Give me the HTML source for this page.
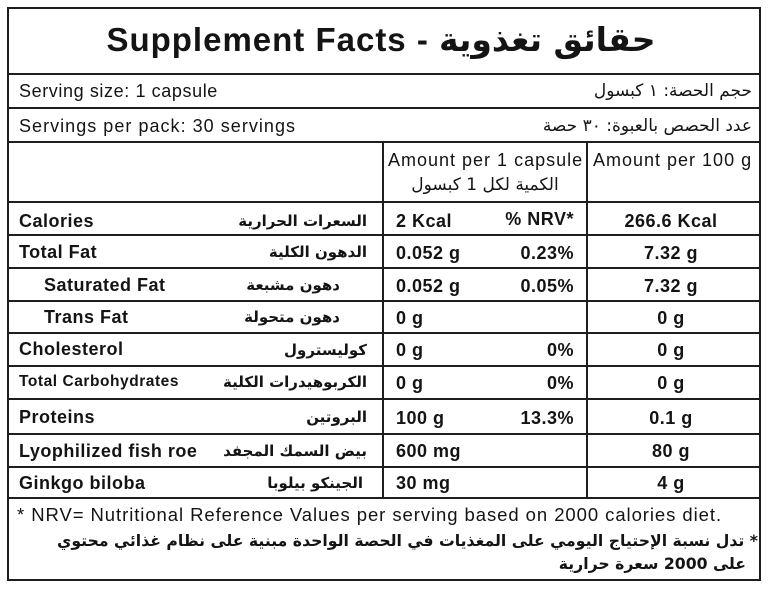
<!DOCTYPE html>
<html><head><meta charset="utf-8">
<style>
html,body{margin:0;padding:0;background:#fff;}
body{width:768px;height:589px;position:relative;overflow:hidden;font-family:"Liberation Sans","DejaVu Sans",sans-serif;color:#141414;}
.box{position:absolute;left:7px;top:7px;width:750px;height:570px;border:2px solid #1e1e1e;}
.h{position:absolute;height:2px;background:#1e1e1e;left:7px;width:754px;}
.v{position:absolute;width:2px;background:#1e1e1e;}
.t{position:absolute;white-space:nowrap;line-height:24px;height:24px;}
.r{font-size:18px;letter-spacing:0.6px;}
.b{font-size:18px;font-weight:bold;letter-spacing:0.5px;}
.ar{font-family:"DejaVu Sans",sans-serif;letter-spacing:0;direction:rtl;}
.arb{font-family:"DejaVu Sans",sans-serif;letter-spacing:0;direction:rtl;font-weight:bold;font-size:15px;}
.rt{text-align:right;}
.ct{text-align:center;}
</style></head><body>
<div class="box"></div>
<div class="h" style="top:73px"></div>
<div class="h" style="top:107px"></div>
<div class="h" style="top:141px"></div>
<div class="h" style="top:201px"></div>
<div class="h" style="top:234px"></div>
<div class="h" style="top:267px"></div>
<div class="h" style="top:300px"></div>
<div class="h" style="top:332px"></div>
<div class="h" style="top:365px"></div>
<div class="h" style="top:398px"></div>
<div class="h" style="top:433px"></div>
<div class="h" style="top:466px"></div>
<div class="h" style="top:497px"></div>
<div class="v" style="left:382px;top:142px;height:356px"></div>
<div class="v" style="left:586px;top:142px;height:356px"></div>

<!-- title -->
<div class="t ct" style="left:9px;width:744px;top:20px;height:40px;line-height:40px;font-size:33px;font-weight:bold;"><span style="letter-spacing:1px">Supplement Facts - </span><span style="font-family:'DejaVu Sans',sans-serif;font-size:33px;" dir="rtl">حقائق تغذوية</span></div>

<!-- serving rows -->
<div class="t r" style="left:19px;top:79px;">Serving size: 1 capsule</div>
<div class="t ar rt" style="right:16px;top:79px;font-size:17px;" dir="rtl">حجم الحصة: ١ كبسول</div>
<div class="t r" style="left:19px;top:114px;letter-spacing:1.03px;">Servings per pack: 30 servings</div>
<div class="t ar rt" style="right:16px;top:114px;font-size:17px;" dir="rtl">عدد الحصص بالعبوة: ٣٠ حصة</div>

<!-- header -->
<div class="t r" style="left:388px;top:148px;letter-spacing:1px;">Amount per 1 capsule</div>
<div class="t ar ct" style="left:384px;width:202px;top:173px;font-size:17px;" dir="rtl">الكمية لكل 1 كبسول</div>
<div class="t r" style="left:593px;top:148px;letter-spacing:1px;">Amount per 100 g</div>

<!-- rows -->
<div class="t b" style="left:19px;top:209px;">Calories</div>
<div class="t arb rt" style="right:401px;top:209px;" dir="rtl">السعرات الحرارية</div>
<div class="t b" style="left:396px;top:209px;">2 Kcal</div>
<div class="t b rt" style="right:194px;top:207px;font-weight:bold;">% NRV*</div>
<div class="t b ct" style="left:571px;width:200px;top:209px;">266.6 Kcal</div>

<div class="t b" style="left:19px;top:240px;">Total Fat</div>
<div class="t arb rt" style="right:401px;top:240px;" dir="rtl">الدهون الكلية</div>
<div class="t b" style="left:396px;top:241px;">0.052 g</div>
<div class="t b rt" style="right:194px;top:241px;">0.23%</div>
<div class="t b ct" style="left:571px;width:200px;top:241px;">7.32 g</div>

<div class="t b" style="left:44px;top:273px;">Saturated Fat</div>
<div class="t arb rt" style="right:428px;top:273px;" dir="rtl">دهون مشبعة</div>
<div class="t b" style="left:396px;top:274px;">0.052 g</div>
<div class="t b rt" style="right:194px;top:274px;">0.05%</div>
<div class="t b ct" style="left:571px;width:200px;top:274px;">7.32 g</div>

<div class="t b" style="left:44px;top:305px;">Trans Fat</div>
<div class="t arb rt" style="right:428px;top:305px;" dir="rtl">دهون متحولة</div>
<div class="t b" style="left:396px;top:306px;">0 g</div>
<div class="t b ct" style="left:571px;width:200px;top:306px;">0 g</div>

<div class="t b" style="left:19px;top:337px;">Cholesterol</div>
<div class="t arb rt" style="right:401px;top:338px;" dir="rtl">كوليسترول</div>
<div class="t b" style="left:396px;top:338px;">0 g</div>
<div class="t b rt" style="right:194px;top:338px;">0%</div>
<div class="t b ct" style="left:571px;width:200px;top:338px;">0 g</div>

<div class="t b" style="left:19px;top:370px;font-size:15.5px;letter-spacing:0.55px;">Total Carbohydrates</div>
<div class="t arb rt" style="right:401px;top:370px;" dir="rtl">الكربوهيدرات الكلية</div>
<div class="t b" style="left:396px;top:371px;">0 g</div>
<div class="t b rt" style="right:194px;top:371px;">0%</div>
<div class="t b ct" style="left:571px;width:200px;top:371px;">0 g</div>

<div class="t b" style="left:19px;top:405px;">Proteins</div>
<div class="t arb rt" style="right:401px;top:405px;" dir="rtl">البروتين</div>
<div class="t b" style="left:396px;top:406px;">100 g</div>
<div class="t b rt" style="right:194px;top:406px;">13.3%</div>
<div class="t b ct" style="left:571px;width:200px;top:406px;">0.1 g</div>

<div class="t b" style="left:19px;top:439px;">Lyophilized fish roe</div>
<div class="t arb rt" style="right:401px;top:439px;" dir="rtl">بيض السمك المجفد</div>
<div class="t b" style="left:396px;top:439px;">600 mg</div>
<div class="t b ct" style="left:571px;width:200px;top:439px;">80 g</div>

<div class="t b" style="left:19px;top:471px;">Ginkgo biloba</div>
<div class="t arb rt" style="right:405px;top:471px;" dir="rtl">الجينكو بيلوبا</div>
<div class="t b" style="left:396px;top:471px;">30 mg</div>
<div class="t b ct" style="left:571px;width:200px;top:471px;">4 g</div>

<!-- footer -->
<div class="t r" style="left:17px;top:503px;font-size:18.5px;letter-spacing:0.93px;">* NRV= Nutritional Reference Values per serving based on 2000 calories diet.</div>
<div class="t arb rt" style="right:10px;top:529px;font-size:15.7px;" dir="rtl">* تدل نسبة الإحتياج اليومي على المغذيات في الحصة الواحدة مبنية على نظام غذائي محتوي</div>
<div class="t arb rt" style="right:22px;top:552px;font-size:15.7px;" dir="rtl">على 2000 سعرة حرارية</div>
</body></html>
